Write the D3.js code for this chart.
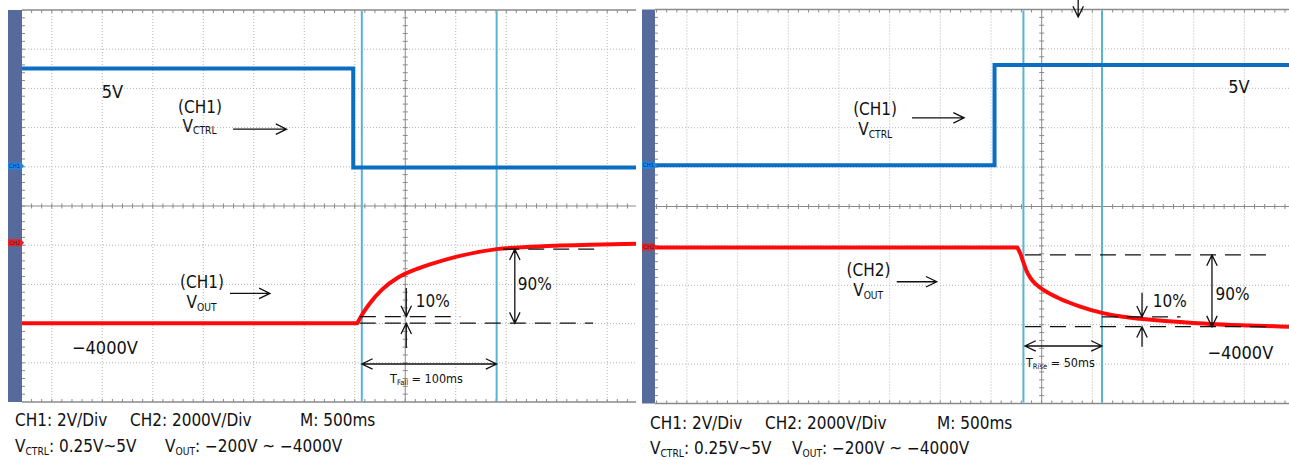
<!DOCTYPE html>
<html>
<head>
<meta charset="utf-8">
<script src="https://cdn.jsdelivr.net/npm/d3@7"></script>
<style>
  body { margin: 0; background: #fff; }
  svg { display: block; }
  text { font-family: "DejaVu Sans Condensed", "DejaVu Sans", sans-serif; }
</style>
</head>
<body>
<div id="chart"></div>
<script>
const fallCtrl = [[-7.59, 3.51], [-1.03, 3.51], [-1.03, 0.98], [4.57, 0.98]];
const fallOut = [[-7.59, -2.99], [-0.95, -2.99], [-0.85, -2.76], [-0.70, -2.48], [-0.45, -2.12],
  [-0.15, -1.83], [0.20, -1.62], [0.49, -1.49], [1.02, -1.29], [1.81, -1.10], [2.47, -1.04],
  [3.66, -0.99], [4.57, -0.96]];
const riseCtrl = [[-7.63, 1.05], [-0.93, 1.05], [-0.93, 3.59], [4.88, 3.59]];
const riseOut = [[-7.63, -1.04], [-0.48, -1.04], [-0.42, -1.20], [-0.36, -1.42], [-0.30, -1.63],
  [-0.22, -1.82], [-0.10, -1.99], [0.10, -2.17], [0.36, -2.34], [0.76, -2.54], [1.19, -2.70],
  [1.60, -2.80], [1.94, -2.85], [2.73, -2.93], [3.32, -2.98], [4.11, -3.02], [4.88, -3.05]];

// cursors (x div) and channel ground markers (y div: CH1, CH2)
const fallCursors = [-0.86, 1.81];
const riseCursors = [-0.36, 1.19];
const fallMarkers = [1.02, -0.94];
const riseMarkers = [1.05, -1.03];

// dashed reference levels: [x from, x to, y]
const fallDashes = [[-0.90, 3.72, -2.99], [-0.90, 1.09, -2.82], [1.94, 3.81, -1.10]];
const riseDashes = [[-0.33, 4.55, -1.23], [-0.33, 4.55, -3.05], [1.19, 2.74, -2.80]];

// annotation arrows: [x1, y1, x2, y2, heads]
const fallArrows = [
  [-3.41, 1.96, -2.35, 1.96, 'end'], [-3.47, -2.23, -2.68, -2.23, 'end'],
  [0.02, -2.09, 0.02, -2.82, 'end'], [0.02, -3.62, 0.02, -2.99, 'end'],
  [2.17, -1.10, 2.17, -2.99, 'both'], [-0.86, -4.03, 1.81, -4.03, 'both']
];
const riseArrows = [
  [-2.56, 2.25, -1.53, 2.25, 'end'], [-2.86, -1.91, -2.07, -1.91, 'end'],
  [1.98, -2.19, 1.98, -2.80, 'end'], [1.98, -3.56, 1.98, -3.05, 'end'],
  [3.36, -1.23, 3.36, -3.05, 'both'], [-0.33, -3.54, 1.19, -3.54, 'both'],
  [0.72, 5.24, 0.72, 4.81, 'end']
];

// labels: [x, y, text, subscript, after, kind]
const fallLabels = [
  [-6.01, 2.76, '5V', '', '', 'big'],
  [-4.50, 2.37, '(CH1)', '', '', 'name'],
  [-4.41, 1.90, 'V', 'CTRL', '', 'name'],
  [-4.46, -2.09, '(CH1)', '', '', 'name'],
  [-4.33, -2.61, 'V', 'OUT', '', 'name'],
  [-6.60, -3.78, '\u22124000V', '', '', 'big'],
  [0.21, -2.58, '10%', '', '', 'name'],
  [2.23, -2.14, '90%', '', '', 'name'],
  [-0.30, -4.52, 'T', 'Fall', ' = 100ms', 'time']
];
const riseLabels = [
  [-3.72, 2.32, '(CH1)', '', '', 'name'],
  [-3.62, 1.81, 'V', 'CTRL', '', 'name'],
  [3.68, 2.87, '5V', '', '', 'big'],
  [-3.85, -1.76, '(CH2)', '', '', 'name'],
  [-3.72, -2.28, 'V', 'OUT', '', 'name'],
  [3.27, -3.88, '\u22124000V', '', '', 'big'],
  [2.19, -2.54, '10%', '', '', 'name'],
  [3.43, -2.37, '90%', '', '', 'name'],
  [-0.31, -4.07, 'T', 'Rise', ' = 50ms', 'time']
];

const captionTop = ['CH1: 2V/Div', 'CH2: 2000V/Div', 'M: 500ms'];
const captionBottom = [['V', 'CTRL', ': 0.25V~5V'], ['V', 'OUT', ': \u2212200V ~ \u22124000V']];

const fontSize = { big: 18, name: 17, time: 12.5 };

const W = 1289, H = 460;
const svg = d3.select('#chart').append('svg').attr('width', W).attr('height', H);
const defs = svg.append('defs');

const panels = [
  { box: { left: 22, top: 10, right: 636, bottom: 402 }, xDomain: [-7.59, 4.57], bar: 8,
    ctrl: fallCtrl, out: fallOut, cursors: fallCursors, markers: fallMarkers,
    dashes: fallDashes, arrows: fallArrows, labels: fallLabels,
    capX: [15, 130, 300], cap2X: [15, 165], capY: [426, 452] },
  { box: { left: 655, top: 9.5, right: 1289, bottom: 403.5 }, xDomain: [-7.63, 4.88], bar: 642,
    ctrl: riseCtrl, out: riseOut, cursors: riseCursors, markers: riseMarkers,
    dashes: riseDashes, arrows: riseArrows, labels: riseLabels,
    capX: [650, 765, 937], cap2X: [650, 792], capY: [429, 454] }
];

function addSubText(g, px, py, size, main, sub, after) {
  const t = g.append('text').attr('x', px).attr('y', py).attr('font-size', size).attr('fill', '#111');
  t.append('tspan').text(main);
  if (sub) t.append('tspan').attr('font-size', size * 0.6).attr('dy', size * 0.16).text(sub);
  if (after) t.append('tspan').attr('dy', sub ? -size * 0.16 : 0).text(after);
  return t;
}

function head(tip, from, len, spread) {
  const dx = tip[0] - from[0], dy = tip[1] - from[1];
  const n = Math.hypot(dx, dy), ux = dx / n, uy = dy / n;
  const pts = [spread, -spread].map(a => {
    const c = Math.cos(a), s = Math.sin(a);
    return [tip[0] - len * (ux * c - uy * s), tip[1] - len * (ux * s + uy * c)];
  });
  return `M${pts[0]}L${tip}L${pts[1]}`;
}

panels.forEach((p, i) => {
  const b = p.box;
  const x = d3.scaleLinear().domain(p.xDomain).range([b.left, b.right]);
  const y = d3.scaleLinear().domain([-5, 5]).range([b.bottom, b.top]);
  const g = svg.append('g');

  defs.append('clipPath').attr('id', 'clip' + i)
    .append('rect').attr('x', b.left).attr('y', b.top)
    .attr('width', b.right - b.left).attr('height', b.bottom - b.top);

  // dotted graticule
  const xs = d3.range(Math.ceil(p.xDomain[0]), Math.floor(p.xDomain[1]) + 1).filter(d => d !== 0);
  const ys = d3.range(-4, 5).filter(d => d !== 0);
  g.selectAll('.gx').data(xs).join('line')
    .attr('x1', d => x(d)).attr('x2', d => x(d)).attr('y1', b.top).attr('y2', b.bottom)
    .attr('stroke', '#b4b4b4').attr('stroke-dasharray', '1,2');
  g.selectAll('.gy').data(ys).join('line')
    .attr('x1', b.left).attr('x2', b.right).attr('y1', d => y(d)).attr('y2', d => y(d))
    .attr('stroke', '#b4b4b4').attr('stroke-dasharray', '1,2');

  // centre axes and borders
  g.append('line').attr('x1', b.left).attr('x2', b.right).attr('y1', y(0)).attr('y2', y(0))
    .attr('stroke', '#8a8a8a');
  g.append('line').attr('x1', x(0)).attr('x2', x(0)).attr('y1', b.top).attr('y2', b.bottom)
    .attr('stroke', '#8a8a8a');
  [b.top, b.bottom].forEach(yy => {
    g.append('line').attr('x1', b.left).attr('x2', b.right).attr('y1', yy).attr('y2', yy)
      .attr('stroke', '#8a8a8a').attr('stroke-width', 1.5);
  });

  // minor ticks every 1/5 division
  const mx = d3.range(Math.ceil(p.xDomain[0] * 5), Math.floor(p.xDomain[1] * 5) + 1).map(k => k / 5);
  const my = d3.range(-24, 25).map(k => k / 5);
  const tickPath = [];
  mx.forEach(v => {
    const px = x(v);
    tickPath.push(`M${px},${y(0) - 2.5}V${y(0) + 2.5}`);
    tickPath.push(`M${px},${b.top}V${b.top + 3}`);
    tickPath.push(`M${px},${b.bottom}V${b.bottom - 3}`);
  });
  my.forEach(v => {
    const py = y(v);
    tickPath.push(`M${x(0) - 2.5},${py}H${x(0) + 2.5}`);
    tickPath.push(`M${b.left},${py}H${b.left + 3}`);
  });
  g.append('path').attr('d', tickPath.join('')).attr('stroke', '#8a8a8a').attr('fill', 'none');

  // side bar
  g.append('rect').attr('x', p.bar).attr('y', b.top).attr('width', b.left - p.bar)
    .attr('height', b.bottom - b.top).attr('fill', '#566b9b');

  // cursors
  g.selectAll('.cur').data(p.cursors).join('line')
    .attr('x1', d => x(d)).attr('x2', d => x(d)).attr('y1', b.top + 1).attr('y2', b.bottom - 1)
    .attr('stroke', '#5ab3d2').attr('stroke-width', 2);

  // traces: flat part straight, the edge after the corner smoothed
  const tr = g.append('g').attr('clip-path', `url(#clip${i})`);
  tr.append('path').datum(p.ctrl)
    .attr('d', d3.line().x(d => x(d[0])).y(d => y(d[1])))
    .attr('fill', 'none').attr('stroke', '#0a6fc2').attr('stroke-width', 4);
  const lineFlat = d3.line().x(d => x(d[0])).y(d => y(d[1]));
  const lineEdge = d3.line().x(d => x(d[0])).y(d => y(d[1])).curve(d3.curveMonotoneX);
  tr.append('path')
    .attr('d', lineFlat(p.out.slice(0, 2)) + lineEdge(p.out.slice(1)).replace(/^M[^CL]*/, ''))
    .attr('fill', 'none').attr('stroke', '#ff0a0a').attr('stroke-width', 4)
    .attr('stroke-linecap', 'round').attr('stroke-linejoin', 'round');

  // channel ground markers
  const mColors = ['#1e86e8', '#ee2222'];
  const mNames = ['CH1', 'CH2'];
  p.markers.forEach((m, k) => {
    const py = y(m);
    g.append('path')
      .attr('d', `M${p.bar},${py - 3.5}H${b.left - 1}L${b.left + 2},${py}L${b.left - 1},${py + 3.5}H${p.bar}Z`)
      .attr('fill', mColors[k]);
    g.append('text').attr('x', p.bar + 1).attr('y', py + 2.2).attr('font-size', 6)
      .attr('fill', '#0d2a55').text(mNames[k]);
  });

  // dashed reference levels
  g.selectAll('.dash').data(p.dashes).join('line')
    .attr('x1', d => x(d[0])).attr('x2', d => x(d[1])).attr('y1', d => y(d[2])).attr('y2', d => y(d[2]))
    .attr('stroke', '#111').attr('stroke-width', 1.3).attr('stroke-dasharray', '16,9');

  // arrows
  p.arrows.forEach(a => {
    const p1 = [x(a[0]), y(a[1])], p2 = [x(a[2]), y(a[3])];
    let d = `M${p1}L${p2}` + head(p2, p1, 12, 0.45);
    if (a[4] === 'both') d += head(p1, p2, 12, 0.45);
    g.append('path').attr('d', d).attr('fill', 'none').attr('stroke', '#111').attr('stroke-width', 1.3);
  });

  // labels
  p.labels.forEach(l => {
    addSubText(g, x(l[0]), y(l[1]), fontSize[l[5]], l[2], l[3], l[4]);
  });

  // captions under the screen
  captionTop.forEach((c, k) => {
    g.append('text').attr('x', p.capX[k]).attr('y', p.capY[0]).attr('font-size', 17)
      .attr('fill', '#111').text(c);
  });
  captionBottom.forEach((c, k) => {
    addSubText(g, p.cap2X[k], p.capY[1], 17, c[0], c[1], c[2]);
  });
});
</script>
</body>
</html>
